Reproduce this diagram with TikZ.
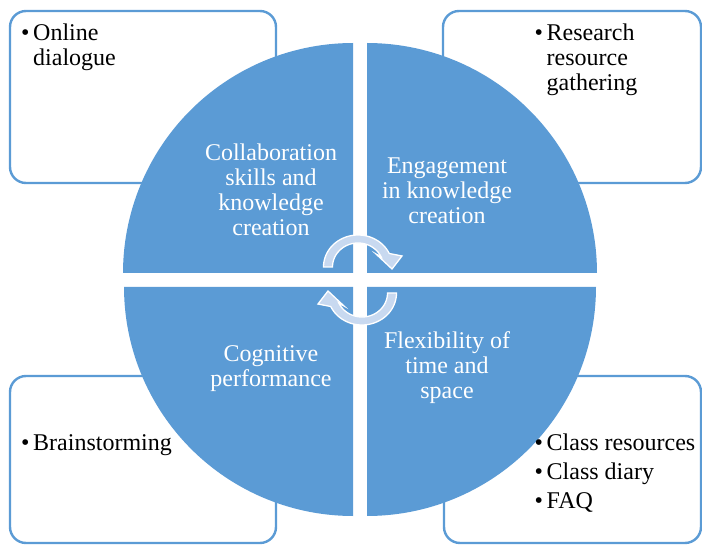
\documentclass[tikz,border=0pt]{standalone}
\usepackage{fontspec}
\setmainfont{Liberation Serif}
\definecolor{qblue}{HTML}{5B9BD5}
\definecolor{arrfill}{HTML}{C8D9F0}
\tikzset{
  boxline/.style={draw=qblue, line width=2.4pt, rounded corners=16pt, fill=white},
  quad/.style={fill=qblue},
  cyc/.style={fill=arrfill, draw=white, line width=1.3pt, line join=miter},
  qtext/.style={text=white, inner sep=0pt, anchor=north, font=\fontsize{24}{25}\selectfont},
  btext/.style={text=black, inner sep=0pt, anchor=north west, font=\fontsize{24}{25}\selectfont},
}
\newcommand{\cycarrowpath}{%
  \path[cyc] plot[domain=180:335, samples=50, variable=\t] ({358+34.5*cos(\t)},{267+32*sin(\t)})
    -- (402,256) -- (392,269) -- (376,254)
    -- plot[domain=335:180, samples=50, variable=\t] ({358+25.5*cos(\t)},{267+24*sin(\t)}) -- cycle;}
\newcommand{\bul}{\makebox[12pt][l]{\textbullet}}
\newcommand{\nobul}{\hspace*{12pt}}
\begin{document}
\begin{tikzpicture}[x=1pt, y=-1pt]
\useasboundingbox (0,0) rectangle (702,545);
% outer boxes
\draw[boxline] (10,11) rectangle (276,183);
\draw[boxline] (443,11) rectangle (701,183);
\draw[boxline] (10,376) rectangle (276,543);
\draw[boxline] (444,376) rectangle (701,543);
% quadrants
\fill[quad] (353,273) -- plot[domain=180:270, samples=80, variable=\t] ({353+230*cos(\t)},{273+230*sin(\t)}) -- cycle;
\fill[quad] (367,273) -- plot[domain=270:360, samples=80, variable=\t] ({367+230*cos(\t)},{273+230*sin(\t)}) -- cycle;
\fill[quad] (367,287) -- plot[domain=0:90, samples=80, variable=\t] ({367+229*cos(\t)},{287+229*sin(\t)}) -- cycle;
\fill[quad] (353,287) -- plot[domain=90:180, samples=80, variable=\t] ({353+229*cos(\t)},{287+229*sin(\t)}) -- cycle;
% cycle arrows
\cycarrowpath
\begin{scope}[rotate around={180:(360,280)}]
\cycarrowpath
\end{scope}
% quadrant texts
\node[qtext] (qtl) at (271,143.2) {\begin{tabular}{@{}c@{}}Collaboration\\skills and\\knowledge\\creation\end{tabular}};
\node[qtext] (qtr) at (447,155.8) {\begin{tabular}{@{}c@{}}Engagement\\in knowledge\\creation\end{tabular}};
\node[qtext] (qbl) at (271,344.2) {\begin{tabular}{@{}c@{}}Cognitive\\performance\end{tabular}};
\node[qtext] (qbr) at (447,330.8) {\begin{tabular}{@{}c@{}}Flexibility of\\time and\\space\end{tabular}};
% box texts
\node[btext] (btl) at (21,22.8) {\begin{tabular}{@{}l@{}}\bul Online\\\nobul dialogue\end{tabular}};
\node[btext] (btr) at (534.5,23.2) {\begin{tabular}{@{}l@{}}\bul Research\\\nobul resource\\\nobul gathering\end{tabular}};
\node[btext] (bbl) at (21,432.5) {\begin{tabular}{@{}l@{}}\bul Brainstorming\end{tabular}};
\node[btext] (bbr) at (534.5,432.5) {\begin{tabular}{@{}l@{}}\bul Class resources\\[4pt]\bul Class diary\\[4pt]\bul FAQ\end{tabular}};
\end{tikzpicture}
\end{document}
